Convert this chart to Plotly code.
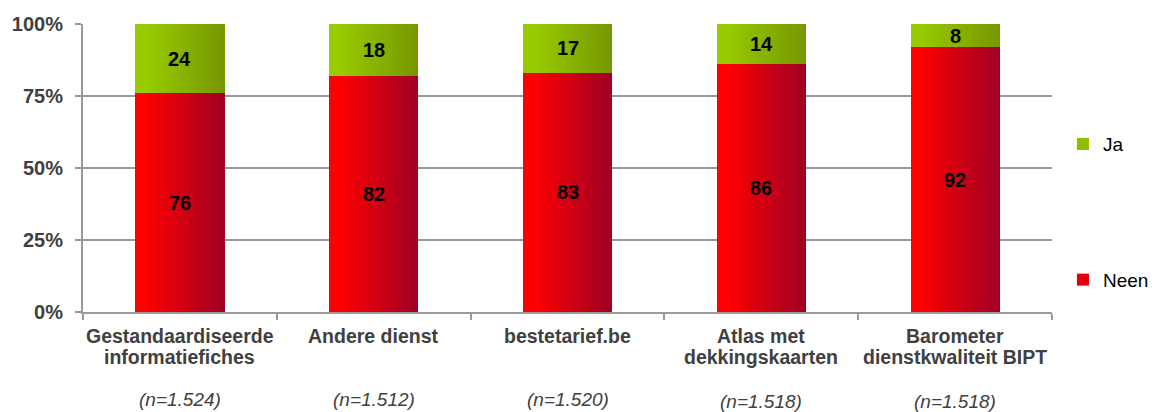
import plotly.graph_objects as go

categories = ["Gestandaardiseerde<br>informatiefiches", "Andere dienst", "bestetarief.be",
              "Atlas met<br>dekkingskaarten", "Barometer<br>dienstkwaliteit BIPT"]
neen = [76, 82, 83, 86, 92]
ja = [24, 18, 17, 14, 8]
n_labels = ["(n=1.524)", "(n=1.512)", "(n=1.520)", "(n=1.518)", "(n=1.518)"]
n_shift = [0, 0, 0, -2, -2.5]
yticks = [0, 25, 50, 75, 100]
ytick_text = ["0%", "25%", "50%", "75%", "100%"]

red_start, red_end = (255, 0, 0), (160, 0, 36)
green_start, green_end = (153, 204, 0), (118, 152, 0)

def lerp(a, b, t):
    return "rgb(%d,%d,%d)" % tuple(round(a[i] + (b[i] - a[i]) * t) for i in range(3))

FONT = "Liberation Sans"
BAR_W = 0.46
N = 30
sw = BAR_W / N
fig = go.Figure()
for i in range(N):
    t = i / (N - 1)
    t2 = max(0.0, (t - 0.08) / 0.92)
    off = -BAR_W / 2 + i * sw
    fig.add_trace(go.Bar(x=categories, y=neen, base=[0] * 5, offset=off, width=sw * 1.05,
                         marker=dict(color=lerp(red_start, red_end, t2), line=dict(width=0)),
                         name="Neen", legendgroup="neen", showlegend=(i == N // 3),
                         legendrank=2, hoverinfo="skip"))
    fig.add_trace(go.Bar(x=categories, y=ja, base=neen, offset=off, width=sw * 1.05,
                         marker=dict(color=lerp(green_start, green_end, t2), line=dict(width=0)),
                         name="Ja", legendgroup="ja", showlegend=(i == N // 3),
                         legendrank=1, hoverinfo="skip"))

for c, nv, jv in zip(categories, neen, ja):
    fig.add_annotation(x=c, y=nv / 2, text="<b>%d</b>" % nv, showarrow=False,
                       font=dict(size=20, color="#000000", family=FONT))
    fig.add_annotation(x=c, y=nv + jv / 2, text="<b>%d</b>" % jv, showarrow=False,
                       font=dict(size=20, color="#000000", family=FONT))

# category labels (two lines, tight line spacing as in the reference)
for c in categories:
    for k, line in enumerate(c.split("<br>")):
        fig.add_annotation(x=c, y=0, yref="paper", yanchor="middle", yshift=-24 - 21 * k,
                           text="<b>%s</b>" % line, showarrow=False,
                           font=dict(size=19.5, color="#404040", family=FONT))

for c, lab, sh in zip(categories, n_labels, n_shift):
    fig.add_annotation(x=c, y=0, yref="paper", yanchor="middle", yshift=-87 + sh,
                       text="<i>%s</i>" % lab, showarrow=False,
                       font=dict(size=19, color="#404040", family=FONT))

# the page body has an 8px margin, so the figure is drawn 8px in from the window corner
fig.update_layout(
    width=1150, height=404,
    margin=dict(l=75, r=106, t=16, b=100, autoexpand=False),
    barmode="overlay", bargap=0,
    plot_bgcolor="white", paper_bgcolor="white",
    font=dict(family=FONT, color="#404040"),
    legend=dict(x=1.0113, xanchor="left", y=0.649, yanchor="top",
                tracegroupgap=108, font=dict(size=19, color="#000000"),
                itemwidth=30, bgcolor="rgba(0,0,0,0)"),
)
fig.update_yaxes(range=[0, 100], tickvals=yticks, ticktext=["<b>%s</b>" % t for t in ytick_text],
                 showgrid=True, gridcolor="#9a9a9a", gridwidth=2,
                 showline=True, linecolor="#9a9a9a", linewidth=2,
                 ticks="outside", ticklen=6, tickcolor="#9a9a9a", tickwidth=2,
                 ticklabelstandoff=8,
                 tickfont=dict(size=20, color="#404040"), zeroline=False)
fig.update_xaxes(tickson="boundaries", ticks="outside", ticklen=6, tickcolor="#9a9a9a", tickwidth=2,
                 showline=True, linecolor="#9a9a9a", linewidth=2,
                 showticklabels=False)

fig.write_html("out.html")
